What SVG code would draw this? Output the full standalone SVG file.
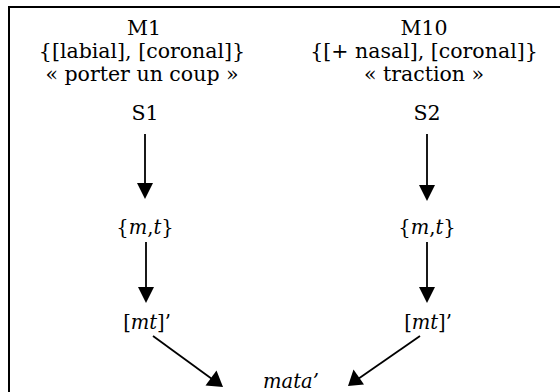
<svg xmlns="http://www.w3.org/2000/svg" width="560" height="392" viewBox="0 0 560 392">
<style>
text{font-family:"DejaVu Serif","Liberation Serif",serif;font-size:20.5px;fill:#000;text-anchor:middle}
.i{font-style:italic}
.s{font-size:19.5px}
.c{stroke:#000;stroke-width:1.8;fill:none}
</style>
<rect width="560" height="392" fill="#fff"/>
<path d="M9,392 V7 H560" stroke="#000" stroke-width="2" fill="none"/>
<g id="M1">
<text x="144" y="35">M1</text>
<text x="142" y="58">{[labial], [coronal]}</text>
<text x="142" y="81">« porter un coup »</text>
<text x="145" y="120">S1</text>
</g>
<g id="M10">
<text x="424" y="35">M10</text>
<text x="424" y="58">{[+ nasal], [coronal]}</text>
<text x="424" y="81">« traction »</text>
<text x="427" y="120">S2</text>
</g>
<g id="mt1"><text class="s" x="145" y="234">{<tspan class="i">m</tspan>,<tspan class="i">t</tspan>}</text></g>
<g id="mt2"><text class="s" x="427" y="234">{<tspan class="i">m</tspan>,<tspan class="i">t</tspan>}</text></g>
<g id="br1"><text class="s" x="147" y="329">[<tspan class="i">mt</tspan>]’</text></g>
<g id="br2"><text class="s" x="428" y="329">[<tspan class="i">mt</tspan>]’</text></g>
<g id="mata"><text class="s i" x="291" y="388">mata’</text></g>
<g id="connectors">
<path d="M145,134 V184" class="c"/><path d="M137,183 L153,183 L145,199 z"/>
<path d="M427,134 V186" class="c"/><path d="M419,185 L435,185 L427,201 z"/>
<path d="M146,242 V288" class="c"/><path d="M138,287 L154,287 L146,303 z"/>
<path d="M427,242 V288" class="c"/><path d="M419,287 L435,287 L427,303 z"/>
<path d="M153,336 L212,379" class="c"/><path d="M223,387 L216.5,370.5 L205.5,385.5 z"/>
<path d="M420,336 L358,379" class="c"/><path d="M348,386 L353.5,369.5 L364,384.5 z"/>
</g>
</svg>
